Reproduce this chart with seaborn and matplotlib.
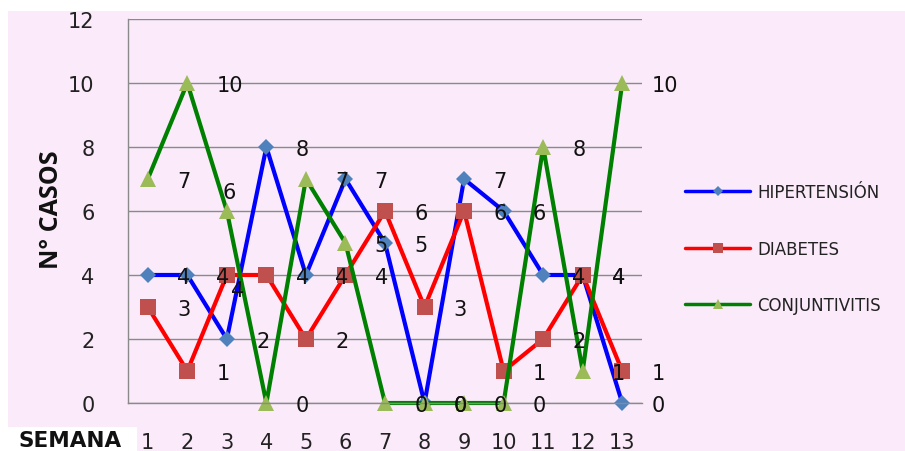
import pandas as pd
import matplotlib
matplotlib.use("Agg")
import matplotlib.pyplot as plt
import seaborn as sns
from matplotlib.patches import Rectangle

# data
semanas = list(range(1, 14))
hipertension = [4, 4, 2, 8, 4, 7, 5, 0, 7, 6, 4, 4, 0]
diabetes = [3, 1, 4, 4, 2, 4, 6, 3, 6, 1, 2, 4, 1]
conjuntivitis = [7, 10, 6, 0, 7, 5, 0, 0, 0, 0, 8, 1, 10]
series_names = ["HIPERTENSIÓN", "DIABETES", "CONJUNTIVITIS"]
y_ticks = [0, 2, 4, 6, 8, 10, 12]

df = pd.DataFrame({
    "semana": semanas * 3,
    "casos": hipertension + diabetes + conjuntivitis,
    "serie": [n for n in series_names for _ in semanas],
})

styles = {
    "HIPERTENSIÓN": dict(color="#0000ff", marker="D", ms=8, mfc="#4f81bd"),
    "DIABETES": dict(color="#ff0000", marker="s", ms=12, mfc="#c0504d"),
    "CONJUNTIVITIS": dict(color="#008000", marker="^", ms=12, mfc="#9bbb59"),
}
# a couple of labels were moved by hand in the original
label_moves = {("CONJUNTIVITIS", 3): (2, 14, "center"),
               ("DIABETES", 3): (8, -11, "center")}

sns.set_theme(style="white")
plt.rcParams["font.family"] = ["DejaVu Sans"]

W, H = 905, 452
fig = plt.figure(figsize=(W / 100, H / 100), dpi=100)
fig.patch.set_facecolor("white")
fig.patches.append(Rectangle((8 / W, 0), 1 - 8 / W, (H - 12) / H, transform=fig.transFigure,
                             facecolor="#fbebfa", edgecolor="none", zorder=-2))
fig.patches.append(Rectangle((8 / W, 0), 129 / W, 24 / H, transform=fig.transFigure,
                             facecolor="white", edgecolor="none", zorder=-1))

ax = fig.add_axes([128 / W, (H - 404) / H, 514 / W, 384 / H])
ax.set_facecolor("none")

for name in series_names:
    st = styles[name]
    sub = df[df["serie"] == name]
    sns.lineplot(data=sub, x="semana", y="casos", ax=ax, estimator=None,
                 color=st["color"], linewidth=3, marker=st["marker"],
                 markersize=st["ms"], markerfacecolor=st["mfc"],
                 markeredgecolor=st["mfc"], markeredgewidth=0, label=name,
                 clip_on=False)

for name in series_names:
    sub = df[df["serie"] == name]
    for x, v in zip(sub["semana"], sub["casos"]):
        dx, dy, ha = label_moves.get((name, x), (21, -1.5, "left"))
        ax.annotate(str(v), (x, v), xytext=(dx, dy), textcoords="offset points",
                    ha=ha, va="center", fontsize=15, color="#111111", zorder=10)

ax.set_xlim(0.5, 13.5)
ax.set_ylim(0, 12)
ax.set_xticks(semanas)
ax.set_yticks(y_ticks)
ax.set_xlabel("")
ax.set_ylabel("")
ax.grid(axis="y", color="#8a8a8a", linewidth=1)
ax.grid(axis="x", visible=False)
for s in ["top", "right"]:
    ax.spines[s].set_visible(False)
for s in ["left", "bottom"]:
    ax.spines[s].set_color("#8a8a8a")
    ax.spines[s].set_linewidth(1)
ax.tick_params(axis="y", length=0, labelsize=15, pad=24, labelcolor="#222222")
ax.tick_params(axis="x", length=0, labelsize=15, pad=21, labelcolor="#222222")

leg = ax.legend(loc="center left", bbox_to_anchor=(685 / W, 0.448),
                bbox_transform=fig.transFigure, frameon=False, fontsize=12,
                handlelength=3.9, handletextpad=0.45, labelspacing=2.3,
                borderpad=0, borderaxespad=0, markerscale=0.65)
for line in leg.get_lines():
    line.set_linewidth(2.5)
for t in leg.get_texts():
    t.set_color("#222222")

fig.text(52 / W, (H - 210) / H, "N° CASOS", rotation=90, fontsize=18,
         fontweight="bold", family=["Open Sans", "DejaVu Sans"],
         ha="center", va="center", color="#111111")
fig.text(70 / W, (H - 441) / H, "SEMANA", fontsize=15.5, fontweight="bold",
         ha="center", va="center", color="#111111")

fig.savefig("out.png", dpi=100, facecolor=fig.get_facecolor())
